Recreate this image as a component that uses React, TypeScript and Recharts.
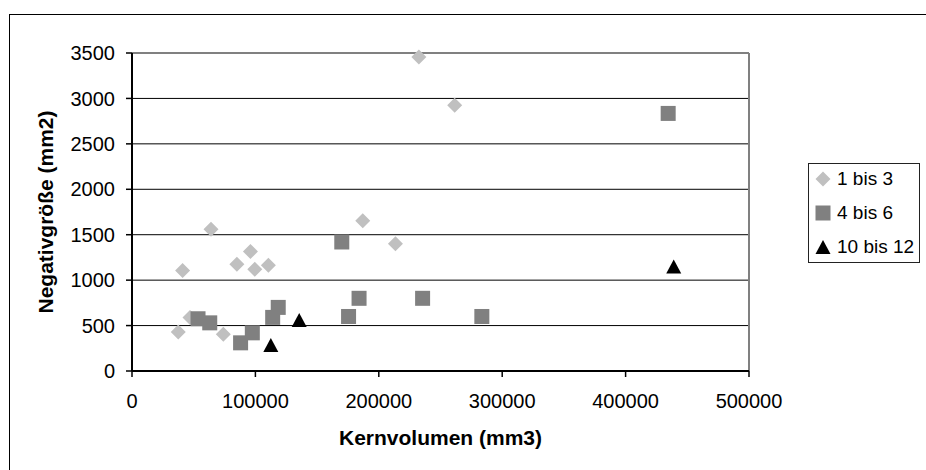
import React from 'react';
import { ScatterChart, Scatter, XAxis, YAxis, CartesianGrid, Legend, ReferenceLine } from 'recharts';

const seriesNames = ['1 bis 3', '4 bis 6', '10 bis 12'];

const group1X = [37500, 41000, 47000, 64000, 74000, 85000, 96000, 99500, 110500, 187000, 213500, 232500, 261500];
const group1Y = [430, 1105, 590, 1560, 405, 1175, 1315, 1120, 1165, 1655, 1400, 3455, 2925];

const group2X = [53500, 63000, 88000, 97500, 114000, 118500, 170000, 175500, 184000, 235500, 283500, 434500];
const group2Y = [575, 530, 310, 420, 590, 700, 1420, 600, 800, 800, 600, 2835];

const group3X = [112500, 135500, 439000];
const group3Y = [285, 560, 1150];

const xTicks = [0, 100000, 200000, 300000, 400000, 500000];
const yTicks = [0, 500, 1000, 1500, 2000, 2500, 3000, 3500];

const toPoints = (xs: number[], ys: number[]) => xs.map((x, i) => ({ x, y: ys[i] }));
const data1 = toPoints(group1X, group1Y);
const data2 = toPoints(group2X, group2Y);
const data3 = toPoints(group3X, group3Y);

const FONT = '"Liberation Sans", Arial, sans-serif';
const C1 = '#C0C0C0';
const C2 = '#808080';
const C3 = '#000000';

const DiamondShape = (p: any) => (
  <path d={`M${p.cx},${p.cy - 7.5}L${p.cx + 7.5},${p.cy}L${p.cx},${p.cy + 7.5}L${p.cx - 7.5},${p.cy}Z`} fill={C1} />
);
const SquareShape = (p: any) => <rect x={p.cx - 7.5} y={p.cy - 7.5} width={15} height={15} fill={C2} />;
const TriangleShape = (p: any) => (
  <path d={`M${p.cx},${p.cy - 7}L${p.cx + 7.5},${p.cy + 7}L${p.cx - 7.5},${p.cy + 7}Z`} fill={C3} />
);

const legendMarkers = [
  <path key="d" d="M8,0.5L15.5,8L8,15.5L0.5,8Z" fill={C1} />,
  <rect key="s" x={0.5} y={0.5} width={15} height={15} fill={C2} />,
  <path key="t" d="M8,1L15.5,15L0.5,15Z" fill={C3} />,
];

const renderLegend = () => (
  <div
    style={{
      width: 112,
      height: 100,
      border: '1px solid #222',
      boxSizing: 'border-box',
      position: 'relative',
      background: '#fff',
      fontFamily: FONT,
      fontSize: 19,
      color: '#000',
    }}
  >
    {seriesNames.map((name, i) => (
      <div
        key={name}
        style={{
          position: 'absolute',
          left: 6,
          top: 34 * i,
          height: 30,
          display: 'flex',
          alignItems: 'center',
          whiteSpace: 'nowrap',
        }}
      >
        <svg width={16} height={16} style={{ marginRight: 6, display: 'block' }}>
          {legendMarkers[i]}
        </svg>
        <span>{name}</span>
      </div>
    ))}
  </div>
);

const YLabel = (props: any) => {
  const vb = props.viewBox || { x: 0, y: 0, width: 0, height: 0 };
  const cx = vb.x + 53;
  const cy = vb.y + vb.height / 2;
  return (
    <text
      x={cx}
      y={cy}
      transform={`rotate(-90, ${cx}, ${cy})`}
      textAnchor="middle"
      fontFamily={FONT}
      fontSize={21}
      fontWeight="bold"
      fill="#000"
    >
      Negativgröße (mm2)
    </text>
  );
};

export default function App() {
  return (
    <div style={{ position: 'absolute', left: 0, top: 0, width: 926, height: 470, overflow: 'hidden', background: '#fff' }}>
      <div
        style={{
          position: 'absolute',
          left: 9,
          top: 14,
          width: 2000,
          height: 2000,
          border: '1px solid #000',
        }}
      />
      <div style={{ position: 'absolute', left: 0, top: 0 }}>
        <ScatterChart width={926} height={470} margin={{ top: 53, right: 177, bottom: 19, left: 0 }}>
          <CartesianGrid vertical={false} stroke="#000" strokeWidth={1} />
          <XAxis
            type="number"
            dataKey="x"
            domain={[0, 500000]}
            ticks={xTicks}
            interval={0}
            height={80}
            tickSize={6}
            tickMargin={17}
            axisLine={{ stroke: '#000', strokeWidth: 2 }}
            tickLine={{ stroke: '#000', strokeWidth: 1.5 }}
            tick={{ fontSize: 20, fill: '#000', fontFamily: FONT }}
            label={{
              value: 'Kernvolumen (mm3)',
              position: 'insideBottom',
              offset: 6,
              fontSize: 21,
              fontWeight: 'bold',
              fill: '#000',
              fontFamily: FONT,
            }}
          />
          <YAxis
            type="number"
            dataKey="y"
            domain={[0, 3500]}
            ticks={yTicks}
            interval={0}
            width={132}
            tickSize={6}
            tickMargin={11}
            axisLine={{ stroke: '#000', strokeWidth: 2 }}
            tickLine={{ stroke: '#000', strokeWidth: 1.5 }}
            tick={{ fontSize: 20, fill: '#000', fontFamily: FONT }}
            label={{ content: YLabel }}
          />
          <ReferenceLine y={3500} stroke="#808080" strokeWidth={2} />
          <ReferenceLine x={500000} stroke="#808080" strokeWidth={2} />
          <Scatter name={seriesNames[0]} data={data1} shape={DiamondShape} isAnimationActive={false} />
          <Scatter name={seriesNames[1]} data={data2} shape={SquareShape} isAnimationActive={false} />
          <Scatter name={seriesNames[2]} data={data3} shape={TriangleShape} isAnimationActive={false} />
          <Legend
            layout="vertical"
            align="center"
            verticalAlign="middle"
            content={renderLegend}
            wrapperStyle={{ left: 808, top: 163, width: 112, height: 100 }}
          />
        </ScatterChart>
      </div>
    </div>
  );
}
